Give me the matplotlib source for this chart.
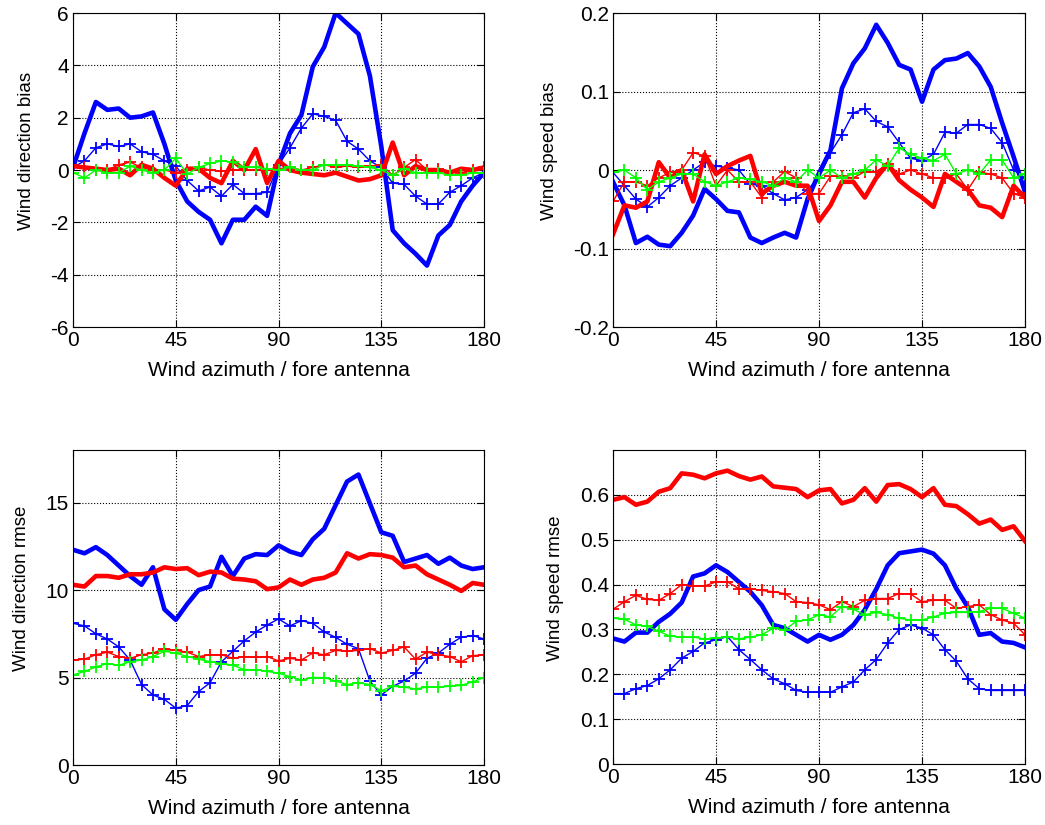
import numpy as np
import matplotlib.pyplot as plt

plt.rcParams['font.family'] = ['Liberation Sans', 'DejaVu Sans']
plt.rcParams['font.size'] = 12
plt.rcParams['axes.unicode_minus'] = False

# wind azimuth relative to fore antenna, 5 degree bins
azimuth = np.arange(0, 181, 5)

# wind direction bias
dir_bias_blue = [0.1, 1.4, 2.6, 2.3, 2.35, 2.0, 2.05, 2.2, 1.0, -0.4, -1.2, -1.6, -1.9, -2.8, -1.9, -1.9, -1.4, -1.75,
                 0.2, 1.4, 2.1, 3.95, 4.7, 6.0, 5.6, 5.2, 3.6, 0.9, -2.3, -2.8, -3.2, -3.65, -2.5, -2.1, -1.2, -0.6, -0.1]
dir_bias_blue_p = [0.1, 0.35, 0.85, 1.0, 0.9, 1.0, 0.7, 0.6, 0.35, 0.15, -0.4, -0.8, -0.65, -1.0, -0.55, -0.9, -0.9, -0.85,
                   0.2, 0.85, 1.6, 2.15, 2.05, 1.9, 1.1, 0.8, 0.35, 0.1, -0.5, -0.55, -1.0, -1.3, -1.3, -0.85, -0.6, -0.3, -0.1]
dir_bias_red = [0.15, 0.1, 0.05, 0.0, 0.05, -0.2, 0.2, 0.05, -0.3, -0.6, 0.05, 0.05, -0.3, -0.5, 0.35, 0.0, 0.8, -0.5,
                0.35, 0.0, -0.1, -0.15, -0.2, -0.1, -0.25, -0.4, -0.35, -0.2, 1.05, -0.2, 0.15, 0.0, 0.0, -0.1, 0.05, 0.0, 0.1]
dir_bias_red_p = [0.1, 0.1, 0.0, 0.0, 0.2, 0.3, 0.1, 0.0, 0.0, -0.1, 0.0, 0.1, 0.0, -0.05, 0.0, 0.0, 0.0, 0.0,
                  0.05, 0.1, 0.0, 0.1, 0.2, 0.1, 0.15, 0.1, 0.15, 0.2, -0.2, 0.1, 0.4, 0.0, 0.05, -0.05, -0.1, 0.0, 0.1]
dir_bias_green_p = [-0.1, -0.3, 0.0, -0.1, -0.1, 0.15, 0.0, -0.1, 0.0, 0.45, -0.15, 0.1, 0.25, 0.35, 0.3, 0.1, 0.1, 0.05,
                    0.0, 0.1, 0.0, 0.0, 0.2, 0.2, 0.2, 0.15, 0.1, 0.0, -0.2, 0.05, -0.1, -0.1, -0.1, -0.2, -0.2, -0.1, -0.1]

# wind speed bias
spd_bias_blue = [-0.015, -0.045, -0.093, -0.085, -0.095, -0.097, -0.08, -0.058, -0.024, -0.037, -0.052, -0.054,
                 -0.086, -0.093, -0.086, -0.08, -0.086, -0.037, -0.004, 0.025, 0.104, 0.136, 0.155, 0.185, 0.162,
                 0.134, 0.128, 0.087, 0.128, 0.14, 0.142, 0.149, 0.132, 0.106, 0.06, 0.017, -0.028]
spd_bias_blue_p = [-0.003, -0.02, -0.037, -0.047, -0.035, -0.02, -0.01, 0.0, 0.01, 0.005, 0.003, 0.0, -0.018, -0.02,
                   -0.03, -0.038, -0.035, -0.025, -0.01, 0.022, 0.045, 0.073, 0.078, 0.062, 0.055, 0.035, 0.015,
                   0.012, 0.02, 0.048, 0.047, 0.058, 0.058, 0.053, 0.035, 0.0, -0.01]
spd_bias_red = [-0.082, -0.045, -0.048, -0.04, 0.01, -0.01, 0.0, -0.04, 0.02, -0.005, 0.005, 0.012, 0.018, -0.03,
                -0.02, -0.015, -0.02, -0.02, -0.065, -0.045, -0.015, -0.015, -0.035, -0.01, 0.008, -0.013, -0.025,
                -0.035, -0.047, -0.005, -0.015, -0.025, -0.045, -0.048, -0.06, -0.02, -0.035]
spd_bias_red_p = [-0.04, -0.015, -0.015, -0.02, -0.01, -0.003, 0.0, 0.022, 0.018, -0.02, 0.0, -0.015, -0.015, -0.035,
                  -0.015, -0.002, -0.01, -0.03, -0.03, -0.008, -0.008, -0.01, -0.002, -0.002, 0.008, -0.005, 0.0,
                  -0.005, -0.01, -0.01, -0.005, -0.025, -0.003, -0.005, -0.01, -0.03, -0.035]
spd_bias_green_p = [-0.003, 0.0, -0.01, -0.025, -0.015, -0.01, -0.005, -0.005, -0.015, -0.02, -0.015, -0.01, -0.012,
                    -0.015, -0.02, -0.01, -0.015, 0.0, -0.01, 0.0, -0.01, -0.005, 0.0, 0.013, 0.005, 0.028, 0.02,
                    0.015, 0.012, 0.02, -0.005, 0.0, -0.005, 0.013, 0.013, -0.01, -0.005]

# wind direction rmse
dir_rmse_blue = [12.3, 12.1, 12.45, 12.0, 11.4, 10.8, 10.3, 11.3, 8.9, 8.3, 9.2, 10.0, 10.2, 11.9, 10.8, 11.8, 12.05,
                 12.0, 12.55, 12.2, 12.0, 12.9, 13.5, 14.85, 16.2, 16.6, 14.95, 13.3, 13.1, 11.6, 11.8, 12.0, 11.5,
                 11.85, 11.4, 11.2, 11.3]
dir_rmse_blue_p = [8.1, 7.95, 7.5, 7.2, 6.75, 6.0, 4.6, 4.0, 3.75, 3.25, 3.4, 4.2, 4.7, 5.9, 6.5, 7.1, 7.6, 8.0, 8.35,
                   7.95, 8.25, 8.1, 7.6, 7.3, 6.9, 6.65, 4.8, 4.0, 4.5, 4.8, 5.25, 6.1, 6.4, 6.9, 7.3, 7.4, 7.2]
dir_rmse_red = [10.3, 10.2, 10.8, 10.8, 10.7, 10.9, 10.9, 11.0, 11.3, 11.2, 11.25, 10.85, 11.05, 11.0, 10.65, 10.6,
                10.5, 10.05, 10.15, 10.6, 10.3, 10.6, 10.7, 11.0, 12.1, 11.8, 12.05, 12.0, 11.85, 11.3, 11.4, 10.9,
                10.6, 10.3, 9.95, 10.4, 10.3]
dir_rmse_red_p = [6.0, 6.05, 6.3, 6.45, 6.2, 6.1, 6.3, 6.4, 6.65, 6.55, 6.45, 6.2, 6.3, 6.3, 6.1, 6.2, 6.15, 6.2, 5.95,
                  6.1, 6.0, 6.4, 6.3, 6.55, 6.5, 6.55, 6.65, 6.4, 6.55, 6.75, 6.05, 6.45, 6.3, 6.2, 5.9, 6.25, 6.3]
dir_rmse_green_p = [5.15, 5.35, 5.6, 5.8, 5.7, 5.9, 6.0, 6.2, 6.5, 6.4, 6.2, 6.05, 5.9, 5.8, 5.7, 5.45, 5.45, 5.35,
                    5.25, 5.05, 4.85, 5.0, 5.0, 4.8, 4.6, 4.7, 4.6, 4.25, 4.5, 4.45, 4.35, 4.45, 4.45, 4.5, 4.55,
                    4.75, 5.0]

# wind speed rmse
spd_rmse_blue = [0.28, 0.273, 0.293, 0.293, 0.317, 0.335, 0.36, 0.418, 0.425, 0.443, 0.428, 0.406, 0.384, 0.354,
                 0.31, 0.303, 0.288, 0.273, 0.288, 0.277, 0.288, 0.31, 0.344, 0.39, 0.443, 0.47, 0.474, 0.478,
                 0.469, 0.443, 0.391, 0.35, 0.288, 0.292, 0.273, 0.27, 0.26]
spd_rmse_blue_p = [0.157, 0.157, 0.168, 0.175, 0.19, 0.21, 0.236, 0.251, 0.27, 0.277, 0.284, 0.255, 0.233, 0.21,
                   0.19, 0.179, 0.164, 0.16, 0.16, 0.16, 0.172, 0.183, 0.21, 0.233, 0.27, 0.3, 0.31, 0.303, 0.288,
                   0.255, 0.229, 0.19, 0.168, 0.164, 0.164, 0.164, 0.164]
spd_rmse_red = [0.589, 0.595, 0.578, 0.585, 0.607, 0.615, 0.648, 0.645, 0.637, 0.648, 0.654, 0.642, 0.634, 0.641,
                0.619, 0.616, 0.613, 0.595, 0.61, 0.613, 0.581, 0.589, 0.615, 0.585, 0.622, 0.624, 0.613, 0.595,
                0.615, 0.578, 0.575, 0.557, 0.536, 0.545, 0.522, 0.53, 0.497]
spd_rmse_red_p = [0.345, 0.362, 0.376, 0.367, 0.365, 0.38, 0.4, 0.397, 0.397, 0.406, 0.406, 0.391, 0.391, 0.387,
                  0.384, 0.38, 0.362, 0.36, 0.355, 0.344, 0.362, 0.351, 0.365, 0.369, 0.369, 0.38, 0.379, 0.362,
                  0.365, 0.365, 0.347, 0.351, 0.355, 0.333, 0.321, 0.314, 0.288]
spd_rmse_green_p = [0.325, 0.323, 0.31, 0.307, 0.296, 0.285, 0.283, 0.283, 0.279, 0.281, 0.283, 0.279, 0.283, 0.288,
                    0.303, 0.299, 0.318, 0.321, 0.333, 0.328, 0.351, 0.345, 0.333, 0.338, 0.333, 0.325, 0.321,
                    0.321, 0.328, 0.336, 0.338, 0.338, 0.34, 0.347, 0.347, 0.336, 0.325]

panels = [
    ([0.0699, 0.6036, 0.3933, 0.3806], 'Wind direction bias', (-6, 6), np.arange(-6, 7, 2), None,
     dir_bias_blue, dir_bias_blue_p, dir_bias_red, dir_bias_red_p, dir_bias_green_p),
    ([0.5866, 0.6036, 0.3943, 0.3806], 'Wind speed bias', (-0.2, 0.2), [-0.2, -0.1, 0, 0.1, 0.2],
     ['-0.2', '-0.1', '0', '0.1', '0.2'],
     spd_bias_blue, spd_bias_blue_p, spd_bias_red, spd_bias_red_p, spd_bias_green_p),
    ([0.0699, 0.0727, 0.3933, 0.3818], 'Wind direction rmse', (0, 18), [0, 5, 10, 15], None,
     dir_rmse_blue, dir_rmse_blue_p, dir_rmse_red, dir_rmse_red_p, dir_rmse_green_p),
    ([0.5866, 0.0739, 0.3943, 0.3806], 'Wind speed rmse', (0, 0.7), [0, 0.1, 0.2, 0.3, 0.4, 0.5, 0.6],
     ['0', '0.1', '0.2', '0.3', '0.4', '0.5', '0.6'],
     spd_rmse_blue, spd_rmse_blue_p, spd_rmse_red, spd_rmse_red_p, spd_rmse_green_p),
]

fig = plt.figure(figsize=(10.45, 8.25), dpi=100, facecolor='white')

for rect, ylabel, ylim, yticks, yticklabels, b, bp, r, rp, gp in panels:
    ax = fig.add_axes(rect)
    ax.plot(azimuth, b, color='#0000ff', lw=3.3)
    ax.plot(azimuth, bp, color='#0000ff', lw=1.0, marker='+', ms=9, mew=1.3)
    ax.plot(azimuth, r, color='#ff0000', lw=3.3)
    ax.plot(azimuth, rp, color='#ff0000', lw=1.0, marker='+', ms=9, mew=1.3)
    ax.plot(azimuth, gp, color='#00ff00', lw=1.0, marker='+', ms=9, mew=1.3)
    ax.set_xlim(0, 180)
    ax.set_ylim(*ylim)
    ax.set_xticks([0, 45, 90, 135, 180])
    ax.set_yticks(yticks)
    if yticklabels is not None:
        ax.set_yticklabels(yticklabels)
    ax.grid(True, linestyle=':', color='black', lw=0.8)
    ax.tick_params(direction='in', top=True, right=True, labelsize=15, length=5, pad=3)
    ax.set_xlabel('Wind azimuth / fore antenna', fontsize=15, labelpad=8)
    ax.set_ylabel(ylabel, fontsize=13.5, labelpad=11)
    ax.yaxis.label.set_y(0.56)
    for s in ax.spines.values():
        s.set_linewidth(0.8)

fig.savefig('out.png', dpi=100)
